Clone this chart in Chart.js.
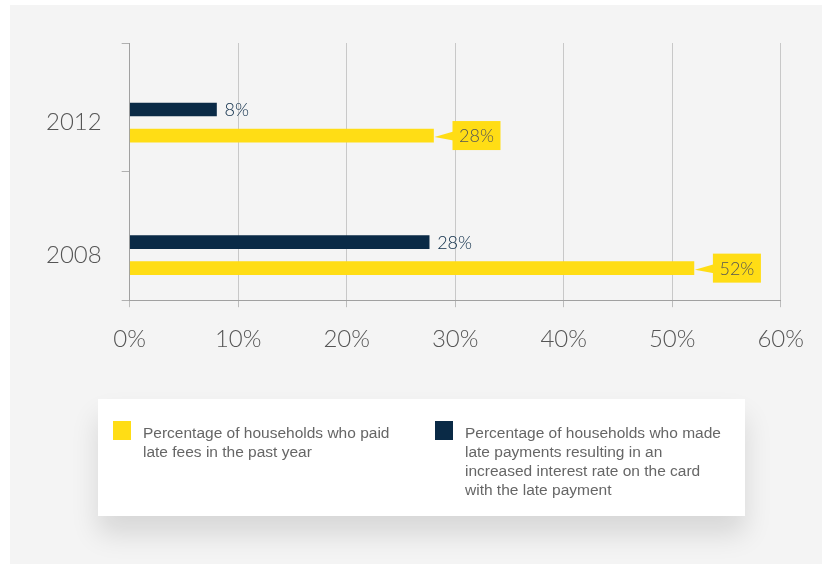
<!DOCTYPE html>
<html>
<head>
<meta charset="utf-8">
<script src="https://cdn.jsdelivr.net/npm/chart.js@4"></script>
<style>
html,body{margin:0;padding:0;background:#fff;width:822px;height:564px;overflow:hidden;}
#panel{position:absolute;left:10px;top:5px;width:812px;height:559px;background:#f4f4f4;}
#wrap{position:absolute;left:0;top:0;width:822px;height:390px;}
#legend{position:absolute;left:98px;top:399px;width:647px;height:117px;background:#fff;
  box-shadow:0 18px 26px rgba(0,0,0,0.12);font-family:"Liberation Sans",Arial,sans-serif;
  font-size:15.5px;line-height:19px;color:#666;}
.item{position:absolute;top:24px;}
.sw{position:absolute;left:0;top:-2px;width:18px;height:19px;}
.tx{position:absolute;left:30px;top:0;white-space:nowrap;}
</style>
</head>
<body>
<div id="panel"></div>
<div id="wrap"><canvas id="c" width="822" height="390"></canvas></div>
<div id="legend"></div>
<script>
// ---- data ----
const years = ['2012', '2008'];
const lateFeesPct = [28, 52];            // yellow series
const rateIncreasePct = [8, 27.6];       // navy series
const lateFeesLabel = ['Percentage of households who paid', 'late fees in the past year'];
const rateIncreaseLabel = ['Percentage of households who made', 'late payments resulting in an',
  'increased interest rate on the card', 'with the late payment'];
const xTickValues = [0, 10, 20, 30, 40, 50, 60];

const YELLOW = '#FFDD15';
const NAVY = '#0A2A46';
const FONT = 'Lato, "Open Sans", sans-serif';

const yMin = 2006.64, yMax = 2014.4;

const isYear = v => years.includes(String(v));

const labelPlugin = {
  id: 'valueLabels',
  afterDatasetsDraw(chart) {
    const ctx = chart.ctx;
    chart.data.datasets.forEach((ds, di) => {
      const meta = chart.getDatasetMeta(di);
      meta.data.forEach((bar, i) => {
        const txt = Math.round(ds.data[i]) + '%';
        ctx.save();
        ctx.font = '300 18px ' + FONT;
        ctx.textBaseline = 'middle';
        if (ds.callout) {
          const bx = bar.x + 19, bw = 48, bh = 29, by = bar.y - bh / 2;
          ctx.fillStyle = ds.backgroundColor;
          ctx.beginPath();
          ctx.moveTo(bar.x + 1, bar.y + 1.5);
          ctx.lineTo(bx + 1, bar.y - 4);
          ctx.lineTo(bx + 1, bar.y + 5);
          ctx.closePath();
          ctx.fill();
          ctx.fillRect(bx, by, bw, bh);
          ctx.fillStyle = '#555';
          ctx.textAlign = 'center';
          ctx.fillText(txt, bx + bw / 2, bar.y + 1);
        } else {
          ctx.fillStyle = NAVY;
          ctx.textAlign = 'left';
          ctx.fillText(txt, bar.x + 8, bar.y + 1);
        }
        ctx.restore();
      });
    });
  }
};

const chart = new Chart(document.getElementById('c'), {
  type: 'bar',
  data: {
    labels: years,
    datasets: [
      { label: rateIncreaseLabel.join(' '), data: rateIncreasePct, backgroundColor: NAVY, callout: false },
      { label: lateFeesLabel.join(' '), data: lateFeesPct, backgroundColor: YELLOW, callout: true }
    ]
  },
  options: {
    indexAxis: 'y',
    responsive: false,
    animation: false,
    layout: { padding: { top: 43, left: 26, right: 35, bottom: 18 } },
    datasets: { bar: { barThickness: 'flex', categoryPercentage: 0.3925, barPercentage: 0.5 } },
    plugins: { legend: { display: false }, tooltip: { enabled: false } },
    scales: {
      x: {
        type: 'linear', min: 0, max: 60,
        afterBuildTicks: s => { s.ticks = xTickValues.map(v => ({ value: v })); },
        ticks: { callback: v => v + '%', color: '#555', font: { family: FONT, size: 24, weight: '300' }, padding: 18, maxRotation: 0 },
        grid: { color: '#c8c8c8', tickColor: '#bcbcbc', tickLength: 7 },
        border: { color: '#a0a0a0' }
      },
      y: {
        type: 'linear', min: yMin, max: yMax, offset: false,
        afterBuildTicks: s => {
          s.ticks = [s.min, 2008, (s.min + s.max) / 2, 2012, s.max].map(v => ({ value: v }));
        },
        ticks: {
          callback: v => (isYear(v) ? String(v) : ''),
          color: '#555', font: { family: FONT, size: 24, weight: '300' }, padding: 20
        },
        grid: {
          offset: false, drawOnChartArea: false, tickLength: 8,
          tickColor: c => (c && c.tick && isYear(c.tick.value) ? 'rgba(0,0,0,0)' : '#b0b0b0')
        },
        border: { color: '#a0a0a0' }
      }
    }
  },
  plugins: [labelPlugin]
});

// HTML legend (yellow first, navy second)
const legend = document.getElementById('legend');
const items = [
  { lines: lateFeesLabel, color: YELLOW, left: 15 },
  { lines: rateIncreaseLabel, color: NAVY, left: 337 }
];
items.forEach(it => {
  const d = document.createElement('div');
  d.className = 'item';
  d.style.left = it.left + 'px';
  const sw = document.createElement('div');
  sw.className = 'sw';
  sw.style.background = it.color;
  const tx = document.createElement('div');
  tx.className = 'tx';
  it.lines.forEach((l, k) => {
    if (k) tx.appendChild(document.createElement('br'));
    tx.appendChild(document.createTextNode(l));
  });
  d.appendChild(sw);
  d.appendChild(tx);
  legend.appendChild(d);
});
</script>
</body>
</html>
